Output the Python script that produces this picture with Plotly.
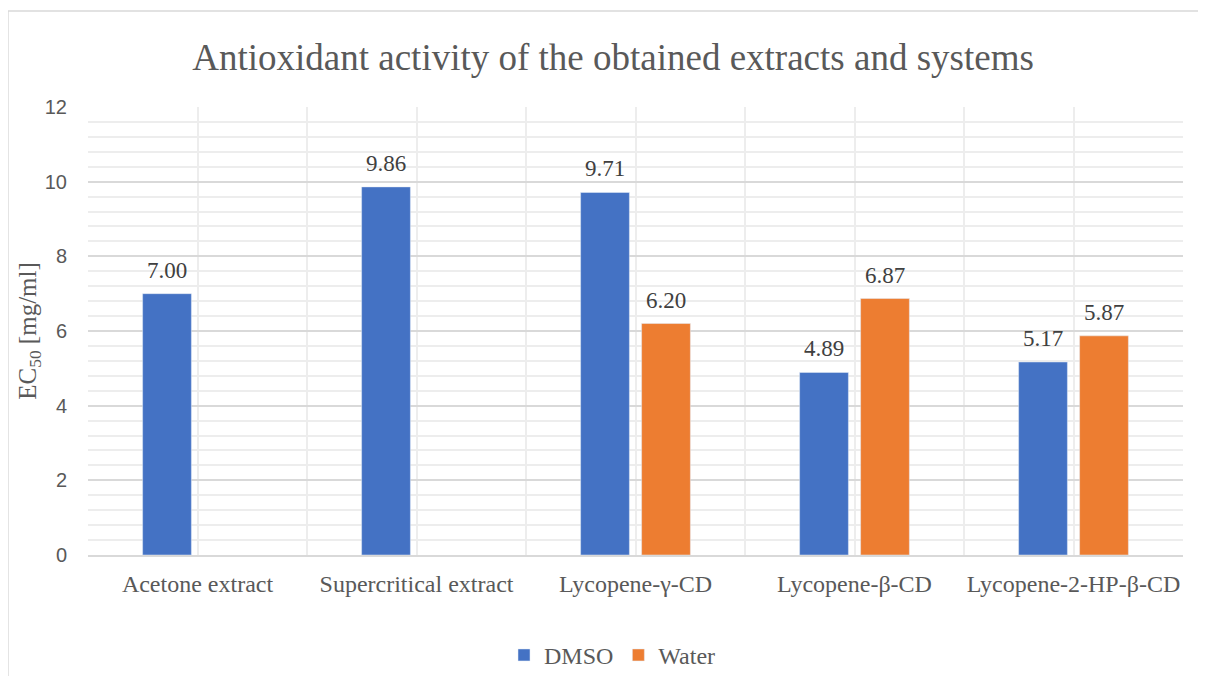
import plotly.graph_objects as go

categories = ["Acetone extract", "Supercritical extract", "Lycopene-γ-CD",
              "Lycopene-β-CD", "Lycopene-2-HP-β-CD"]
dmso = [7.00, 9.86, 9.71, 4.89, 5.17]
water = [None, None, 6.20, 6.87, 5.87]
y_ticks = [0, 2, 4, 6, 8, 10, 12]

SERIF = "'Liberation Serif', 'Times New Roman', Times, 'DejaVu Serif', serif"
SANS = "'Liberation Sans', Arial, sans-serif"
positions = list(range(len(categories)))

fig = go.Figure()
fig.add_trace(go.Bar(x=positions, y=dmso, name="DMSO", marker_color="#4472C4"))
fig.add_trace(go.Bar(x=positions, y=water, name="Water", marker_color="#ED7D31"))

# value labels above the bars (annotations so the gap can be tuned)
annotations = []
for vals, shift in ((dmso, -30.5), (water, 30.5)):
    for i, v in enumerate(vals):
        if v is None:
            continue
        annotations.append(dict(
            x=i, y=v, xref="x", yref="y", text=f"{v:.2f}", showarrow=False,
            xshift=shift, yshift=9, yanchor="bottom",
            font=dict(family=SERIF, size=23, color="#404040")))

# the page body has an 8px margin: keep the figure inside the window
fig.update_layout(
    width=1190, height=668,
    margin=dict(l=80, r=15, t=99, b=121, autoexpand=False),
    paper_bgcolor="white", plot_bgcolor="white",
    barmode="group", bargap=0.443, bargroupgap=0.2,
    title=dict(text="Antioxidant activity of the obtained extracts and systems",
               x=0.4795, xref="paper", xanchor="center",
               y=1 - 49 / 668, yref="container", yanchor="middle",
               font=dict(family=SERIF, size=37, color="#595959")),
    legend=dict(orientation="h", x=0.479, xanchor="center", y=-0.224, yanchor="middle",
                font=dict(family=SERIF, size=24, color="#595959"), itemwidth=30),
    annotations=annotations,
    shapes=[dict(type="rect", xref="paper", yref="paper",
                 x0=-0.0731, x1=1.05, y0=-0.4, y1=1.2143,
                 line=dict(color="#D9D9D9", width=1.5), layer="below")],
)

fig.update_xaxes(
    range=[-0.5, 4.5], tickvals=positions, ticktext=categories,
    showgrid=True, gridcolor="#EDEDED", gridwidth=1.5,
    minor=dict(tick0=-0.5, dtick=0.5, showgrid=True, gridcolor="#EDEDED", gridwidth=1.5),
    showline=True, linecolor="#D9D9D9", linewidth=1.5, zeroline=False,
    ticks="", ticklabelstandoff=6, automargin=False,
    tickfont=dict(family=SERIF, size=24, color="#595959"),
)
fig.update_yaxes(
    range=[0, 12], tickvals=y_ticks,
    showgrid=True, gridcolor="#D9D9D9", gridwidth=1.5,
    minor=dict(tick0=0, dtick=0.4, showgrid=True, gridcolor="#EDEDED", gridwidth=1.5),
    zeroline=False, ticks="", ticklabelstandoff=20, automargin=False,
    tickfont=dict(family=SANS, size=20, color="#595959"),
    title=dict(text="EC<sub>50</sub> [mg/ml]", standoff=1,
               font=dict(family=SERIF, size=25, color="#595959")),
)

fig.write_html("out.html")
